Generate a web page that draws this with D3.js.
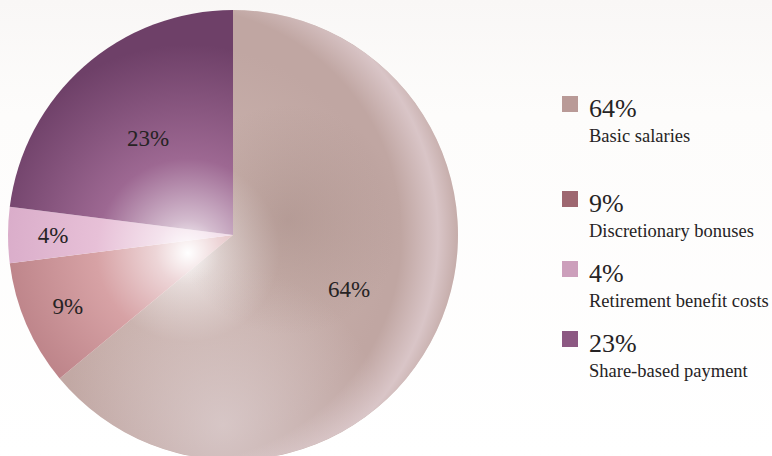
<!DOCTYPE html>
<html>
<head>
<meta charset="utf-8">
<script src="https://cdn.jsdelivr.net/npm/d3@7"></script>
<style>
  html, body { margin: 0; padding: 0; background: #fdfcfb; }
  svg { display: block; }
  text { font-family: "Liberation Serif", "DejaVu Serif", serif; fill: #262324; }
</style>
</head>
<body>
<svg id="chart" width="772" height="456"></svg>
<script>
// data
const labels = ["Basic salaries", "Discretionary bonuses", "Retirement benefit costs", "Share-based payment"];
const values = [64, 9, 4, 23];
const legendColors = ["#b99a97", "#9e6770", "#cc9fbb", "#8c5882"];
const sliceBase = ["#c8b0ab", "#d7a2a5", "#e7c0d7", "#9d6892"];
const sliceDark = ["#c0a6a2", "#b87e84", "#d7a9c7", "#6e4068"];

const width = 772, height = 456;
const cx = 233, cy = 235, radius = 225;

const svg = d3.select("#chart");
const defs = svg.append("defs");

// soft background band at the top
const bg = defs.append("linearGradient").attr("id", "bg").attr("x1", 0).attr("y1", 0).attr("x2", 0).attr("y2", 1);
bg.append("stop").attr("offset", "0%").attr("stop-color", "#f9f7f6");
bg.append("stop").attr("offset", "25%").attr("stop-color", "#fdfcfb");
bg.append("stop").attr("offset", "100%").attr("stop-color", "#ffffff");
svg.append("rect").attr("width", width).attr("height", height).attr("fill", "url(#bg)");

const pie = d3.pie().sort(null).value(d => d);
const arcs = pie(values);
const arc = d3.arc().innerRadius(0).outerRadius(radius);

// per-slice radial shading, light spot left of the centre
arcs.forEach((a, i) => {
    const g = defs.append("radialGradient")
        .attr("id", "shade" + i)
        .attr("gradientUnits", "userSpaceOnUse")
        .attr("cx", -45).attr("cy", 10)
        .attr("fx", -45).attr("fy", 18)
        .attr("r", radius * 1.2);
    g.append("stop").attr("offset", "0%").attr("stop-color", "#ffffff");
    g.append("stop").attr("offset", "12%").attr("stop-color", d3.interpolateRgb("#ffffff", sliceBase[i])(0.45));
    g.append("stop").attr("offset", "34%").attr("stop-color", sliceBase[i]);
    g.append("stop").attr("offset", "75%").attr("stop-color", sliceDark[i]);
    g.append("stop").attr("offset", "100%").attr("stop-color", sliceDark[i]);
});

const pieG = svg.append("g").attr("transform", `translate(${cx},${cy})`);

pieG.selectAll("path.slice")
    .data(arcs)
    .enter()
    .append("path")
    .attr("class", "slice")
    .attr("d", arc)
    .attr("fill", (d, i) => "url(#shade" + i + ")");

// overlays on the big slice: rim light on the right, darker patch up-right of centre
const rim = defs.append("radialGradient").attr("id", "rim")
    .attr("gradientUnits", "userSpaceOnUse")
    .attr("cx", -60).attr("cy", 0).attr("r", radius + 60);
rim.append("stop").attr("offset", "80%").attr("stop-color", "#f2e4ec").attr("stop-opacity", 0);
rim.append("stop").attr("offset", "93%").attr("stop-color", "#f2e4ec").attr("stop-opacity", 0.5);
rim.append("stop").attr("offset", "100%").attr("stop-color", "#f2e4ec").attr("stop-opacity", 0.1);

const blob = defs.append("radialGradient").attr("id", "blob")
    .attr("gradientUnits", "userSpaceOnUse")
    .attr("cx", 55).attr("cy", -15).attr("r", 115);
blob.append("stop").attr("offset", "0%").attr("stop-color", "#9a7e78").attr("stop-opacity", 0.4);
blob.append("stop").attr("offset", "100%").attr("stop-color", "#9a7e78").attr("stop-opacity", 0);

const light = defs.append("radialGradient").attr("id", "light")
    .attr("gradientUnits", "userSpaceOnUse")
    .attr("cx", -10).attr("cy", 190).attr("r", 160);
light.append("stop").attr("offset", "0%").attr("stop-color", "#e2d6d8").attr("stop-opacity", 0.65);
light.append("stop").attr("offset", "100%").attr("stop-color", "#e2d6d8").attr("stop-opacity", 0);

defs.append("clipPath").attr("id", "bigClip")
    .append("path").attr("d", arc(arcs[0]));

pieG.append("circle").attr("r", radius).attr("fill", "url(#light)").attr("clip-path", "url(#bigClip)");
pieG.append("circle").attr("r", radius).attr("fill", "url(#blob)").attr("clip-path", "url(#bigClip)");
pieG.append("circle").attr("r", radius).attr("fill", "url(#rim)").attr("clip-path", "url(#bigClip)");

// slice labels
const labelArcBig = d3.arc().innerRadius(radius * 0.57).outerRadius(radius * 0.57);
const labelArcSmall = d3.arc().innerRadius(radius * 0.8).outerRadius(radius * 0.8);

pieG.selectAll("text.pct")
    .data(arcs)
    .enter()
    .append("text")
    .attr("class", "pct")
    .attr("transform", d => {
        const c = (d.data < 10 ? labelArcSmall : labelArcBig).centroid(d);
        return `translate(${c[0]},${c[1]})`;
    })
    .attr("text-anchor", "middle")
    .attr("dy", "0.33em")
    .style("font-size", "23px")
    .text(d => d.data + "%");

// legend
const legendY = [117, 212, 282, 352];
const legend = svg.append("g").attr("transform", "translate(562,0)");
const rows = legend.selectAll("g.row")
    .data(values)
    .enter()
    .append("g")
    .attr("class", "row")
    .attr("transform", (d, i) => `translate(0,${legendY[i]})`);

rows.append("rect")
    .attr("x", 0).attr("y", -21)
    .attr("width", 16).attr("height", 16)
    .attr("fill", (d, i) => legendColors[i]);

rows.append("text")
    .attr("x", 27).attr("y", 0)
    .style("font-size", "26px")
    .text(d => d + "%");

rows.append("text")
    .attr("x", 27).attr("y", 25)
    .style("font-size", "18.5px")
    .text((d, i) => labels[i]);
</script>
</body>
</html>
